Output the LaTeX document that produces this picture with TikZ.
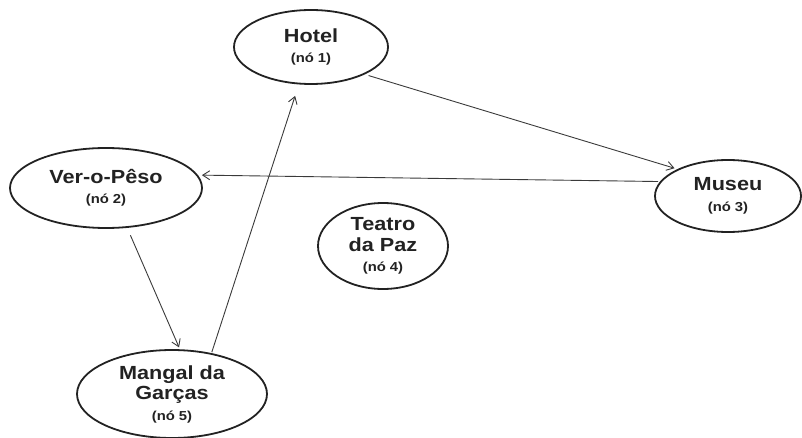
\documentclass[tikz,border=0pt]{standalone}
\usepackage{fontspec}
\setmainfont[FakeStretch=1.14]{Liberation Sans}
\usetikzlibrary{shapes.geometric,arrows.meta}
\definecolor{inkc}{HTML}{222222}
\definecolor{linec}{HTML}{3A3A3A}
\newcommand{\mainsz}{\fontsize{19}{20.5}\selectfont\bfseries}
\newcommand{\subsz}{\fontsize{13}{18.5}\selectfont\bfseries}
\begin{document}
\begin{tikzpicture}[x=1pt,y=-1pt,
  place/.style={ellipse, draw=inkc, line width=1.8pt, inner sep=0pt,
    align=center, text=inkc, font=\mainsz},
  link/.style={draw=linec, line width=0.9pt,
    -{Straight Barb[length=7pt,width=9pt,line width=0.9pt]}}]
\useasboundingbox (0,0) rectangle (802,438);

% places
\node[place, minimum width=154pt, minimum height=74pt] (hotel) at (311,47)
  {Hotel\\{\subsz (nó 1)}};
\node[place, minimum width=192pt, minimum height=80pt] (vero) at (106,188)
  {Ver-o-Pêso\\{\subsz (nó 2)}};
\node[place, minimum width=146pt, minimum height=72pt] (museu) at (728,196)
  {Museu\\{\subsz (nó 3)}};
\node[place, minimum width=130pt, minimum height=86pt] (teatro) at (383,246)
  {Teatro\\da Paz\\{\subsz (nó 4)}};
\node[place, minimum width=190pt, minimum height=88pt] (mangal) at (172,394)
  {Mangal da\\Garças\\{\subsz (nó 5)}};

% routes
\draw[link, shorten <=4pt, shorten >=3pt] (hotel.-27) -- (museu.152);
\draw[link, shorten <=2pt, shorten >=4pt] (museu.168) -- (vero.8);
\draw[link, shorten <=8pt, shorten >=2pt] (vero.-62) -- (mangal.80);
\draw[link, shorten <=1pt, shorten >=12pt] (mangal.46) -- (hotel.-108);
\end{tikzpicture}
\end{document}
